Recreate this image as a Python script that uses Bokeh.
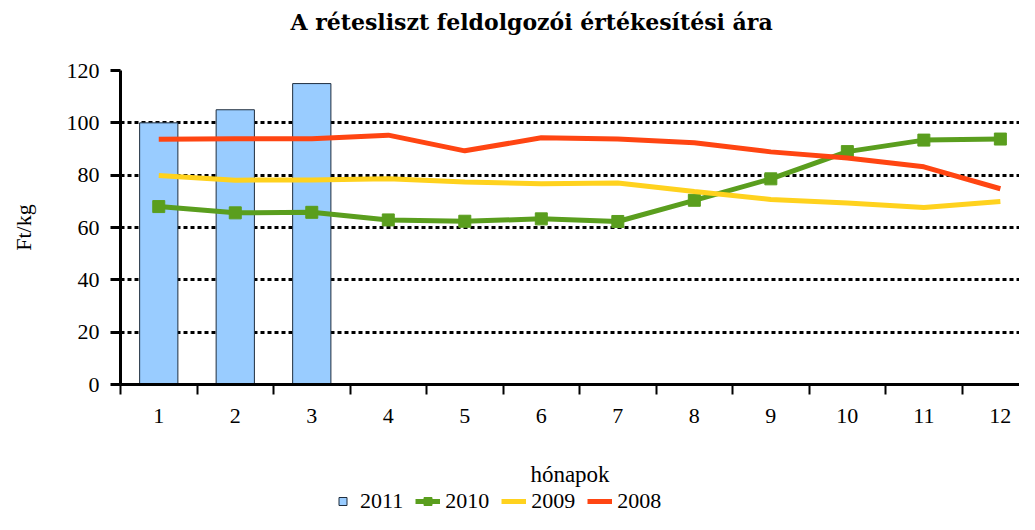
from bokeh.plotting import figure
from bokeh.layouts import column
from bokeh.models import Range1d, FixedTicker, Legend, LegendItem, Title, ColumnDataSource
from bokeh.embed import file_html
from bokeh.resources import INLINE

months = [1, 2, 3, 4, 5, 6, 7, 8, 9, 10, 11, 12]
month_labels = ["1", "2", "3", "4", "5", "6", "7", "8", "9", "10", "11", "12"]
months_2011 = [1, 2, 3]
v2011 = [100, 105, 115]
v2010 = [68.0, 65.6, 65.8, 62.9, 62.4, 63.3, 62.3, 70.4, 78.6, 89.0, 93.4, 93.8]
v2009 = [79.9, 78.1, 78.2, 78.6, 77.4, 76.7, 77.0, 73.8, 70.7, 69.4, 67.6, 69.9]
v2008 = [93.7, 93.9, 93.9, 95.3, 89.3, 94.3, 93.8, 92.4, 88.9, 86.6, 83.2, 74.8]
title_text = "A rétesliszt feldolgozói értékesítési ára"
series_labels = ["2011", "2010", "2009", "2008"]

FONT = "Liberation Serif"
BLUE = "#99CCFF"
GREEN = "#5A9E1E"
YELLOW = "#FFD21E"
RED = "#FF4512"
W = 1019

# ---- title strip ----
tf = figure(width=W, height=48, output_backend="svg", toolbar_location=None,
            x_axis_location=None, y_axis_location=None,
            min_border_left=0, min_border_right=0, min_border_top=0, min_border_bottom=0)
tf.outline_line_color = None
tf.xgrid.visible = False
tf.ygrid.visible = False
tf.add_layout(Title(text=title_text, align="left", offset=170,
                    text_font="DejaVu Serif", text_font_size="22px", text_font_style="bold",
                    text_color="black", standoff=12), "above")

# ---- main chart ----
p = figure(width=W, height=441, output_backend="svg", toolbar_location=None,
           x_range=Range1d(0.5, 12.25), y_range=Range1d(0, 120),
           min_border_left=120, min_border_right=0, min_border_top=22,
           min_border_bottom=103)
p.outline_line_color = None
p.background_fill_color = "white"
p.border_fill_color = "white"

src2011 = ColumnDataSource(data=dict(x=months_2011, top=v2011))
bars = p.vbar(x="x", top="top", width=0.5, source=src2011, fill_color=BLUE,
              line_color="#1F2D3D", line_width=1)
p.line(months, v2010, line_color=GREEN, line_width=5)
p.scatter(months, v2010, marker="square", size=12, fill_color=GREEN, line_color=GREEN)
p.line(months, v2009, line_color=YELLOW, line_width=5)
p.line(months, v2008, line_color=RED, line_width=5)

xa = p.xaxis[0]
xa.ticker = FixedTicker(ticks=months, minor_ticks=[m + 0.5 for m in [0] + months])
xa.major_label_overrides = {m: s for m, s in zip(months, month_labels)}
xa.major_tick_line_color = None
xa.major_tick_out = 10
xa.major_tick_in = 0
xa.minor_tick_line_color = "black"
xa.minor_tick_line_width = 2
xa.minor_tick_out = 10
xa.minor_tick_in = 0
xa.major_label_standoff = 14
xa.axis_line_width = 3
xa.axis_line_color = "black"
xa.major_label_text_font = FONT
xa.major_label_text_font_size = "22px"
xa.major_label_text_color = "black"
xa.axis_label = "hónapok"
xa.axis_label_text_font = FONT
xa.axis_label_text_font_size = "23px"
xa.axis_label_text_font_style = "normal"
xa.axis_label_text_color = "black"
xa.axis_label_standoff = 36

ya = p.yaxis[0]
ya.ticker = FixedTicker(ticks=[0, 20, 40, 60, 80, 100, 120], minor_ticks=[])
ya.major_tick_line_color = "black"
ya.major_tick_line_width = 3
ya.major_tick_out = 10
ya.major_tick_in = 0
ya.minor_tick_line_color = None
ya.major_label_standoff = 11
ya.axis_line_width = 3
ya.axis_line_color = "black"
ya.major_label_text_font = FONT
ya.major_label_text_font_size = "22px"
ya.major_label_text_color = "black"
ya.axis_label = "Ft/kg"
ya.axis_label_text_font = FONT
ya.axis_label_text_font_size = "22px"
ya.axis_label_text_font_style = "normal"
ya.axis_label_text_color = "black"
ya.axis_label_standoff = 28

p.xgrid.grid_line_color = None
p.ygrid.ticker = FixedTicker(ticks=[20, 40, 60, 80, 100, 120])
p.ygrid.grid_line_color = "black"
p.ygrid.grid_line_width = 3
p.ygrid.grid_line_dash = "4 3"

# ---- legend strip (series drawn out of its view, only legend glyphs show) ----
lf = figure(width=W, height=25, output_backend="svg", toolbar_location=None,
            x_axis_location=None, y_axis_location=None,
            x_range=Range1d(-10, -9), y_range=Range1d(-10, -9),
            min_border_left=0, min_border_right=0, min_border_top=0, min_border_bottom=0)
lf.outline_line_color = None
lf.xgrid.visible = False
lf.ygrid.visible = False
g2011 = lf.scatter(months_2011, v2011, marker="square", size=12, fill_color=BLUE,
                   line_color="#1F2D3D", line_width=1)
g2010a = lf.line(months, v2010, line_color=GREEN, line_width=5)
g2010b = lf.scatter(months, v2010, marker="square", size=12, fill_color=GREEN, line_color=GREEN)
g2009 = lf.line(months, v2009, line_color=YELLOW, line_width=5)
g2008 = lf.line(months, v2008, line_color=RED, line_width=5)

legend = Legend(items=[
    LegendItem(label=series_labels[0], renderers=[g2011]),
    LegendItem(label=series_labels[1], renderers=[g2010a, g2010b]),
    LegendItem(label=series_labels[2], renderers=[g2009]),
    LegendItem(label=series_labels[3], renderers=[g2008]),
], orientation="horizontal", location=(210, 0),
    label_text_font=FONT, label_text_font_size="22px", label_text_color="black",
    glyph_width=25, glyph_height=20, label_standoff=5, spacing=12,
    padding=0, margin=0, border_line_color=None, background_fill_alpha=0)
lf.add_layout(legend, "center")

layout = column(tf, p, lf, spacing=0)
open("out.html", "w").write(file_html(layout, INLINE))
